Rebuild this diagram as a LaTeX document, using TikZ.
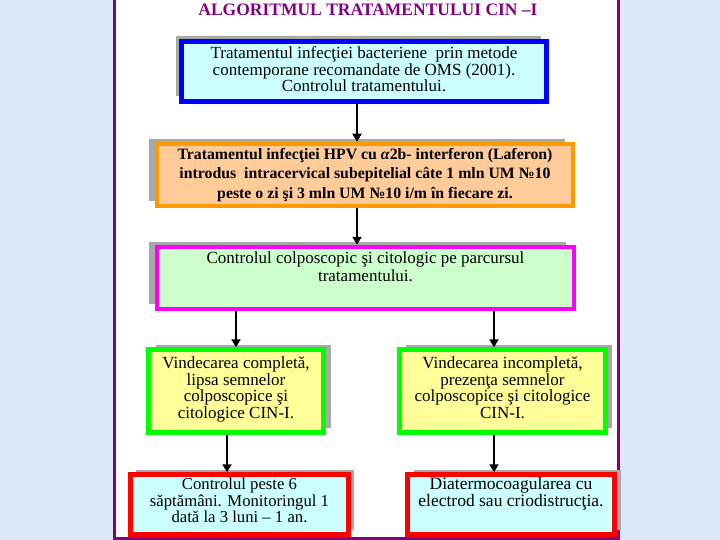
\documentclass[tikz,border=0pt]{standalone}
\usepackage{fontspec}
\setmainfont{Liberation Serif}
\usetikzlibrary{arrows.meta, shadows}
\definecolor{cinPurple}{HTML}{800080}
\definecolor{cinBlue}{HTML}{0000FF}
\definecolor{cinOrange}{HTML}{FF9900}
\definecolor{cinMagenta}{HTML}{FF00FF}
\definecolor{cinGreen}{HTML}{00FF00}
\definecolor{cinRed}{HTML}{FF0000}
\definecolor{cinCyan}{HTML}{CCFFFF}
\definecolor{cinPeach}{HTML}{FFCC99}
\definecolor{cinMint}{HTML}{CCFFCC}
\definecolor{cinLemon}{HTML}{FFFF99}
\definecolor{cinShade}{HTML}{A8A8A8}
\definecolor{cinSky}{HTML}{DDE8F6}
\newcommand{\lift}[1]{\rule[-#1]{0pt}{#1}}

\begin{document}
\begin{tikzpicture}[x=1pt, y=-1pt,
  stepbox/.style={draw, line width=4.5pt, align=center, inner sep=1pt, font=\fontsize{17}{16.5}\selectfont},
  bigbox/.style={stepbox, font=\fontsize{17}{16.8}\selectfont},
  shadeleft/.style={drop shadow={shadow xshift=-#1, shadow yshift=5pt, fill=cinShade, opacity=1}},
  shaderight/.style={drop shadow={shadow xshift=#1, shadow yshift=5pt, fill=cinShade, opacity=1}},
  flow/.style={-{Triangle[length=8pt, width=9pt]}, line width=2.5pt, black}]
\useasboundingbox (0,0) rectangle (720,540);
\fill[cinSky] (0,0) rectangle (720,540);
\fill[white] (114.5,0) rectangle (618.5,538.5);
\draw[cinPurple, line width=3pt] (114.5,-2) -- (114.5,538.5) -- (618.5,538.5) -- (618.5,-2);
\node[anchor=base, text=cinPurple, font=\fontsize{17.5}{18}\selectfont\bfseries] (title) at (368,16) {ALGORITMUL TRATAMENTULUI CIN –I};
% main column
\node[stepbox, shadeleft=6pt, draw=cinBlue, fill=cinCyan, minimum width=365, minimum height=60] (b1) at (364,71.5)
  {Tratamentul infecţiei bacteriene\ \ prin metode\\contemporane recomandate de OMS (2001).\\Controlul tratamentului.\lift{4pt}};
\node[stepbox, shadeleft=8pt, draw=cinOrange, fill=cinPeach, minimum width=416, minimum height=62, font=\fontsize{15.8}{19.5}\selectfont\bfseries] (b2) at (365,175)
  {Tratamentul infecţiei HPV cu \textit{α}2b- interferon (Laferon)\\introdus\ \ intracervical subepitelial câte 1 mln UM №10\\peste o zi şi 3 mln UM №10 i/m în fiecare zi.};
\node[stepbox, shadeleft=8pt, draw=cinMagenta, fill=cinMint, minimum width=417, minimum height=62, font=\fontsize{17}{18}\selectfont] (b3) at (365.5,278)
  {Controlul colposcopic şi citologic pe parcursul\\tratamentului.\lift{22pt}};
% outcomes
\node[bigbox, shaderight=7pt, draw=cinGreen, fill=cinLemon, minimum width=175, minimum height=83] (g1) at (236,391)
  {Vindecarea completă,\\lipsa semnelor\\colposcopice şi\\citologice CIN-I.\lift{7pt}};
\node[bigbox, shaderight=6pt, draw=cinGreen, fill=cinLemon, minimum width=206, minimum height=83] (g2) at (502.5,391)
  {Vindecarea incompletă,\\prezenţa semnelor\\colposcopice şi citologice\\CIN-I.\lift{7pt}};
\node[stepbox, shaderight=5pt, draw=cinRed, fill=cinCyan, minimum width=218, minimum height=60, font=\fontsize{16.7}{16.5}\selectfont] (r1) at (239.5,504.5)
  {Controlul peste 6\\săptămâni. Monitoringul 1\\dată la 3 luni – 1 an.\lift{8pt}};
\node[bigbox, shaderight=6pt, draw=cinRed, fill=cinCyan, minimum width=207, minimum height=60, font=\fontsize{17.5}{17}\selectfont] (r2) at (511,504.5)
  {Diatermocoagularea cu\\electrod sau criodistrucţia.\lift{25pt}};
\draw[flow] ([xshift=-7pt]b1.south) -- ([xshift=-8pt]b2.north);
\draw[flow] ([xshift=-8pt]b2.south) -- ([xshift=-8.5pt]b3.north);
\draw[flow] (b3.south-|g1.north) -- (g1.north);
\draw[flow] ([xshift=-8.5pt]b3.south-|g2.north) -- ([xshift=-8.5pt]g2.north);
\draw[flow] ([xshift=-9pt]g1.south) -- ([xshift=-9pt]g1.south|-r1.north);
\draw[flow] ([xshift=-8.5pt]g2.south) -- ([xshift=-8.5pt]g2.south|-r2.north);
\end{tikzpicture}
\end{document}
